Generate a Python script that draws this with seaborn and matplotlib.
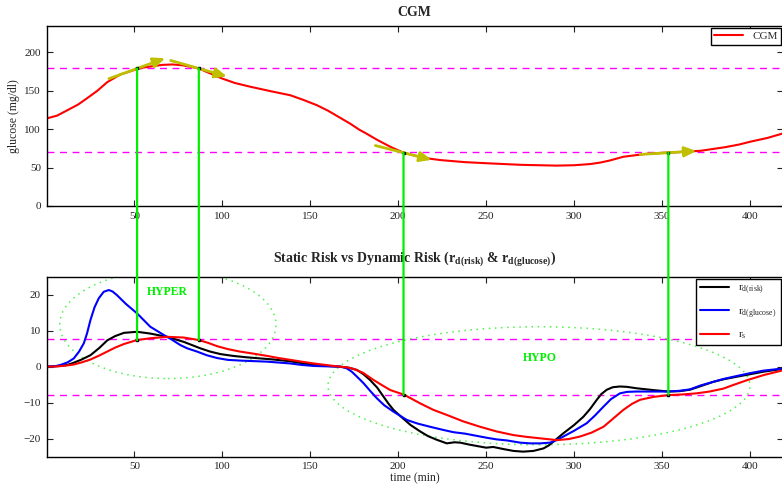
import matplotlib
matplotlib.use('Agg')
import matplotlib.pyplot as plt
from matplotlib.patches import Ellipse, ConnectionPatch
import seaborn as sns

# CGM trace (min, mg/dl)
cgm_t = [0, 6, 12, 18, 23, 29, 34.5, 42, 49.6, 55, 61, 66, 71.6, 77, 82, 86.5, 93, 99.8, 107,
         116, 128, 138.6, 146, 153.8, 160, 166, 172.7, 178, 182, 188, 195.5, 203, 212, 218,
         224, 238, 252, 270, 290, 300, 309, 315, 320, 328, 340, 352.7, 362, 372, 386, 394,
         400, 410, 418.8]
cgm_g = [113.8, 117.5, 124.7, 132, 140, 150, 161, 171, 176.6, 180, 182, 183.5, 184, 183, 181,
         178.8, 172.5, 165.8, 160, 155, 149, 144, 138, 131, 124, 116, 107, 99, 94, 86, 77,
         69.3, 64, 61.5, 59.7, 57, 55.4, 53.5, 52.5, 53, 54.5, 56.5, 59, 64, 67.5, 69.3,
         70.5, 71.8, 76.5, 80, 83.5, 88.5, 94.4]

# static risk r_s
rs_t = [0, 5, 10, 15.5, 20, 25, 30, 34.5, 39, 44, 51.5, 59, 68.5, 78, 86.6, 92, 97, 103, 110,
        118, 125.4, 132, 138.6, 145, 151.9, 160, 167, 171, 174.6, 180, 186, 191, 195.5, 203.4,
        212.5, 220, 227.6, 237, 246.6, 256, 265.5, 273, 280.7, 290.2, 297, 303.4, 310, 316.7,
        322, 328, 333, 337.5, 345, 353.6, 362, 369.7, 377, 384.8, 391, 398, 408, 418.8]
rs_v = [0, 0.05, 0.25, 0.6, 1.2, 2.0, 3.1, 4.2, 5.3, 6.3, 7.4, 7.9, 8.3, 8.1, 7.4, 6.6, 5.7,
        4.9, 4.2, 3.6, 3.0, 2.4, 1.9, 1.4, 0.9, 0.4, 0, -0.2, -0.6, -1.7, -3.7, -5.2, -6.5,
        -7.8, -10.2, -12.0, -13.4, -15.2, -16.7, -18.0, -19.0, -19.5, -19.9, -20.4, -20.1,
        -19.4, -18.3, -16.7, -14.5, -12, -10.3, -9.2, -8.4, -7.9, -7.7, -7.4, -6.9, -6.1,
        -5.0, -3.8, -2.3, -1.0]

# dynamic risk r_d(risk)
rdr_t = [0, 8, 12, 15.5, 20, 25, 30, 34.5, 39, 44, 51.5, 59, 68.5, 78, 87.5, 93, 98.9, 106,
         114, 129, 138.6, 145, 151.9, 160, 167, 172, 176.5, 180, 184, 188, 191.6, 194.5,
         197.3, 203, 207, 212.5, 217, 221.9, 227.6, 232, 235.2, 241, 246.6, 250, 254, 260,
         265.5, 271, 276.9, 282.6, 285.5, 288.3, 293.9, 300, 305.3, 309, 312.9, 315.5, 318.6,
         322, 326.1, 330, 335.6, 345, 353.6, 360, 365.9, 372, 379.2, 385, 392.4, 400, 407.6,
         418.8]
rdr_v = [0, 0.2, 0.5, 1.1, 2.0, 3.2, 5.2, 7.3, 8.5, 9.4, 9.7, 9.2, 8.3, 6.9, 5.1, 4.2, 3.5,
         3.0, 2.6, 2.0, 1.5, 1.0, 0.5, 0.2, 0, -0.3, -0.9, -2.0, -3.7, -5.8, -8.3, -10.3, -12,
         -14.5, -16.2, -18, -19.3, -20.3, -21.3, -21.0, -21.1, -21.7, -22.2, -22.5, -22.3,
         -22.9, -23.4, -23.6, -23.4, -22.7, -21.9, -20.8, -18.5, -16.2, -13.9, -11.8, -9.2,
         -7.6, -6.4, -5.7, -5.5, -5.6, -6.0, -6.5, -6.9, -6.8, -6.4, -5.4, -4.2, -3.5, -2.8,
         -2.1, -1.4, -0.6]

# dynamic risk r_d(glucose)
rdg_t = [0, 5, 8, 12, 15.5, 18.5, 21.2, 23, 25, 27.3, 29.7, 32.5, 35.4, 37.5, 40, 45, 51.5,
         59, 66.7, 71, 76.1, 80, 85.6, 91, 97, 103, 110, 125.4, 138.6, 145, 151.9, 167, 170.5,
         173.6, 177, 180.3, 184, 187.9, 192, 197.3, 204.9, 211, 218.2, 225, 231.4, 238, 246.6,
         251, 256, 262, 269.3, 275, 280.7, 286.4, 290, 293.9, 300, 307.2, 312, 316.7, 321,
         326.1, 330, 335.6, 353.6, 360, 365.9, 372, 379.2, 385, 392.4, 400, 407.6, 418.8]
rdg_v = [0, 0.15, 0.5, 1.2, 2.3, 4.2, 6.5, 9.2, 13, 16.5, 19, 20.8, 21.3, 20.9, 19.9, 17.5,
         14.8, 11.1, 8.8, 7.6, 6.0, 5.1, 4.2, 3.2, 2.4, 1.9, 1.7, 1.4, 0.9, 0.5, 0.2, 0, -0.4,
         -1.4, -3.0, -4.6, -6.7, -8.8, -10.7, -12.5, -14.8, -15.8, -16.7, -17.5, -18.2, -18.6,
         -19.4, -19.8, -20.2, -20.5, -21.1, -21.3, -21.3, -21.1, -20.4, -19.4, -17.8, -15.7,
         -13.5, -11.1, -9.0, -7.4, -7.0, -6.9, -6.9, -6.7, -6.3, -5.2, -4.2, -3.4, -2.6, -1.8,
         -1.1, -0.5]

# threshold crossings
event_t = [51.5, 86.6, 203, 353.6]
event_glucose = [178.8, 178.8, 69.3, 69.3]
event_rs = [7.4, 7.4, -7.8, -7.8]
event_rate = [0.83, -0.65, -0.58, 0.14]   # mg/dl per min, tangent arrows

glucose_limits = [180, 70]
risk_limits = [7.75, -7.75]

sns.set_style('ticks')
plt.rcParams['font.family'] = ['Liberation Serif', 'DejaVu Serif']
plt.rcParams['mathtext.fontset'] = 'custom'
plt.rcParams['mathtext.rm'] = 'Liberation Serif'
plt.rcParams['mathtext.bf'] = 'Liberation Serif:bold'
plt.rcParams['mathtext.it'] = 'Liberation Serif:italic'

fig = plt.figure(figsize=(7.82, 4.90), dpi=100)
ax1 = fig.add_axes([0.0595, 0.5796, 0.9418, 0.3673])
ax2 = fig.add_axes([0.0595, 0.0680, 0.9418, 0.3673])

magenta = '#ff00ff'
lime = '#00ee00'
olive = '#bfbf00'

# top: CGM
sns.lineplot(x=cgm_t, y=cgm_g, ax=ax1, color='red', lw=1.5, label='CGM', sort=False)
for g in glucose_limits:
    ax1.axhline(g, color=magenta, lw=1, ls=(0, (5, 4)), zorder=1)
for t, g, r in zip(event_t, event_glucose, event_rate):
    half = 16
    ax1.annotate('', xy=(t + half, g + half * r), xytext=(t - half, g - half * r),
                 arrowprops=dict(arrowstyle='-|>,head_length=0.7,head_width=0.3',
                                 color=olive, lw=2, shrinkA=0, shrinkB=0), zorder=4)
ax1.plot(event_t, event_glucose, 's', color='black', ms=2, zorder=5)
ax1.set_xlim(0, 418.8)
ax1.set_ylim(0, 234)
ax1.set_yticks([0, 50, 100, 150, 200])
ax1.set_ylabel('glucose (mg/dl)', fontsize=8.5, labelpad=3)
ax1.set_title('CGM', fontsize=10, fontweight='bold', pad=7)
leg1 = ax1.legend(loc='upper right', fontsize=8, frameon=True, fancybox=False,
                  edgecolor='black', framealpha=1, handlelength=2.6, borderpad=0.3,
                  borderaxespad=0.2)
leg1.get_frame().set_linewidth(1)

# bottom: risks
sns.lineplot(x=rdr_t, y=rdr_v, ax=ax2, color='black', lw=1.5, label='r$_{\\mathrm{d(risk)}}$', sort=False)
sns.lineplot(x=rdg_t, y=rdg_v, ax=ax2, color='blue', lw=1.5, label='r$_{\\mathrm{d(glucose)}}$', sort=False)
sns.lineplot(x=rs_t, y=rs_v, ax=ax2, color='red', lw=1.5, label='r$_{\\mathrm{s}}$', sort=False)
for v in risk_limits:
    ax2.axhline(v, color=magenta, lw=1, ls=(0, (5, 4)), zorder=1)
ax2.plot(event_t, event_rs, 's', color='black', ms=2, zorder=5)
ax2.add_patch(Ellipse((69, 11.7), 123, 30, fill=False, ec=lime, lw=1.1, ls=(0, (1, 3)), alpha=0.7))
ax2.add_patch(Ellipse((280, -5.3), 240, 32.8, fill=False, ec=lime, lw=1.1, ls=(0, (1, 3)), alpha=0.7))
ax2.text(68.7, 20.7, 'HYPER', color=lime, fontsize=8.5, fontweight='bold', ha='center', va='center')
ax2.text(280.5, 2.3, 'HYPO', color=lime, fontsize=8.5, fontweight='bold', ha='center', va='center')
ax2.set_xlim(0, 418.8)
ax2.set_ylim(-25, 25)
ax2.set_yticks([-20, -10, 0, 10, 20])
ax2.set_xlabel('time (min)', fontsize=8.5, labelpad=1)
ax2.set_title('Static Risk vs Dynamic Risk (r$_{\\mathbf{d(risk)}}$ & r$_{\\mathbf{d(glucose)}}$)',
              fontsize=10, fontweight='bold', pad=11)
leg2 = ax2.legend(loc='upper right', fontsize=8, frameon=True, fancybox=False,
                  edgecolor='black', framealpha=1, handlelength=2.6, borderpad=0.4,
                  labelspacing=0.9, borderaxespad=0.2)
leg2.get_frame().set_linewidth(1)

for ax in (ax1, ax2):
    ax.set_xticks([50, 100, 150, 200, 250, 300, 350, 400])
    ax.tick_params(direction='in', top=True, right=True, length=4, width=0.8,
                   labelsize=8, colors='#222222', pad=4)
    for s in ax.spines.values():
        s.set_color('black')
        s.set_linewidth(1)

# green connectors between the two panels
for t, g, r in zip(event_t, event_glucose, event_rs):
    con = ConnectionPatch(xyA=(t, g), coordsA=ax1.transData, xyB=(t, r), coordsB=ax2.transData,
                          color=lime, lw=1.6, zorder=3)
    fig.add_artist(con)

fig.savefig('out.png', dpi=100)
